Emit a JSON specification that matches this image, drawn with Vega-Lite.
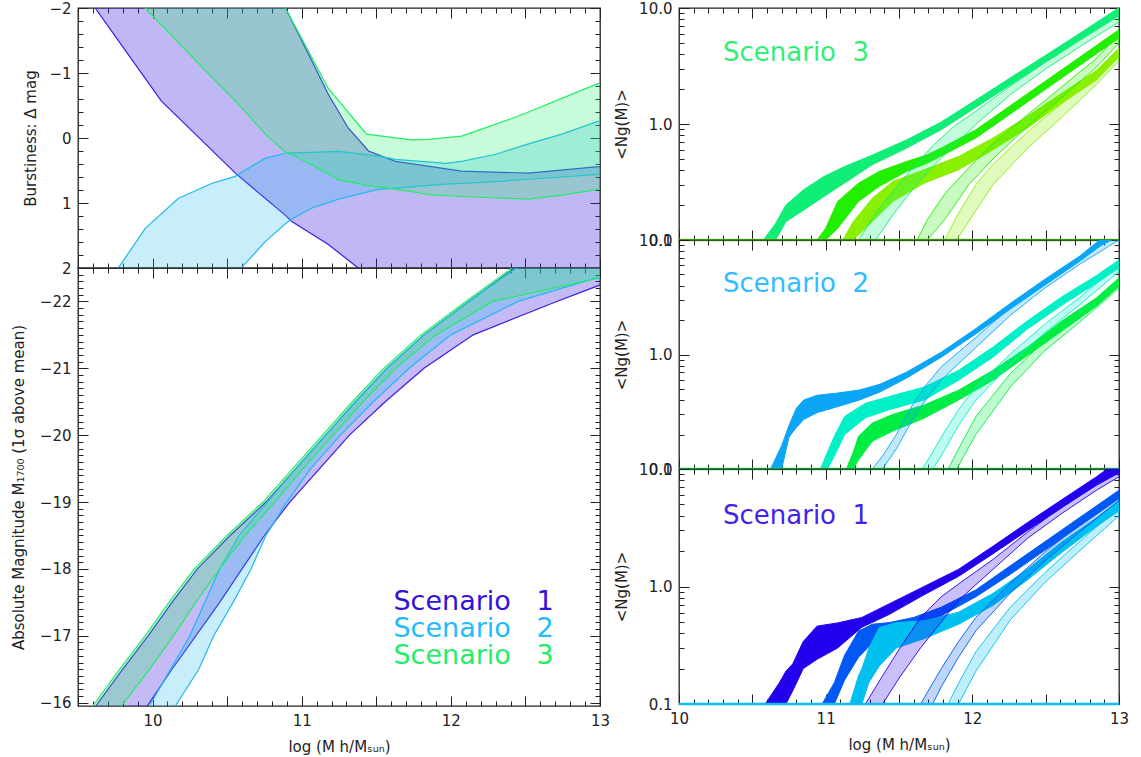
{
"$schema": "https://vega.github.io/schema/vega-lite/v6.json",
"background": "white",
"padding": {"left": 10, "top": 0, "right": 8, "bottom": 4},
"config": {
  "font": "DejaVu Sans",
  "view": {"stroke": "#222", "strokeWidth": 1.3},
  "axis": {"domain": false, "grid": false, "ticks": true, "tickColor": "#222", "tickWidth": 1, "labelFont": "DejaVu Sans", "labelFontSize": 15, "labelColor": "#222", "labelPadding": 17, "labelOverlap": false, "labelFlush": false, "titleFont": "DejaVu Sans", "titleFontSize": 15, "titleFontWeight": "normal", "titleColor": "#222", "titlePadding": 11, "minExtent": 0}
},
"datasets": {
  "tl1": [{"x":9.5,"lo":-4,"hi":-2.4},{"x":9.615,"lo":-4,"hi":-2.0},{"x":9.823,"lo":-4,"hi":-1.33},{"x":10.058,"lo":-4,"hi":-0.57},{"x":10.287,"lo":-4,"hi":-0.06},{"x":10.555,"lo":-4,"hi":0.54},{"x":10.75,"lo":-2.7,"hi":0.92},{"x":10.891,"lo":-2.0,"hi":1.19},{"x":10.931,"lo":-1.82,"hi":1.28},{"x":11.179,"lo":-0.67,"hi":1.64},{"x":11.313,"lo":-0.15,"hi":1.88},{"x":11.38,"lo":0.02,"hi":2.0},{"x":11.448,"lo":0.2,"hi":2.12},{"x":11.629,"lo":0.36,"hi":2.4},{"x":12.072,"lo":0.51,"hi":2.8},{"x":12.521,"lo":0.54,"hi":3.0},{"x":12.991,"lo":0.44,"hi":3.0},{"x":13.05,"lo":0.42,"hi":3.0}],
  "tl2": [{"x":9.73,"lo":2.3,"hi":3.5},{"x":9.77,"lo":2.0,"hi":3.5},{"x":9.951,"lo":1.39,"hi":3.3},{"x":10.172,"lo":0.93,"hi":3.0},{"x":10.394,"lo":0.7,"hi":2.6},{"x":10.555,"lo":0.59,"hi":2.2},{"x":10.595,"lo":0.53,"hi":2.0},{"x":10.757,"lo":0.31,"hi":1.59},{"x":10.891,"lo":0.235,"hi":1.32},{"x":10.931,"lo":0.23,"hi":1.25},{"x":11.065,"lo":0.22,"hi":1.08},{"x":11.247,"lo":0.205,"hi":0.94},{"x":11.515,"lo":0.28,"hi":0.79},{"x":11.629,"lo":0.33,"hi":0.77},{"x":11.965,"lo":0.39,"hi":0.71},{"x":12.072,"lo":0.36,"hi":0.7},{"x":12.301,"lo":0.25,"hi":0.67},{"x":12.521,"lo":0.09,"hi":0.635},{"x":12.744,"lo":-0.06,"hi":0.6},{"x":12.991,"lo":-0.26,"hi":0.56},{"x":13.05,"lo":-0.3,"hi":0.55}],
  "tl3": [{"x":9.85,"lo":-4,"hi":-2.3},{"x":9.951,"lo":-4,"hi":-2.0},{"x":10.307,"lo":-4,"hi":-1.15},{"x":10.555,"lo":-4,"hi":-0.57},{"x":10.757,"lo":-2.6,"hi":-0.06},{"x":10.891,"lo":-2.0,"hi":0.22},{"x":10.958,"lo":-1.71,"hi":0.28},{"x":11.179,"lo":-0.76,"hi":0.55},{"x":11.246,"lo":-0.58,"hi":0.64},{"x":11.401,"lo":-0.15,"hi":0.71},{"x":11.434,"lo":-0.06,"hi":0.73},{"x":11.736,"lo":0.03,"hi":0.82},{"x":11.851,"lo":0.02,"hi":0.87},{"x":12.072,"lo":-0.03,"hi":0.9},{"x":12.407,"lo":-0.3,"hi":0.93},{"x":12.521,"lo":-0.4,"hi":0.94},{"x":12.743,"lo":-0.61,"hi":0.88},{"x":12.991,"lo":-0.84,"hi":0.79},{"x":13.05,"lo":-0.87,"hi":0.78}],
  "bl1": [{"m":-15.8,"xl":9.57,"xr":9.92},{"m":-16.5,"xl":9.8,"xr":10.13},{"m":-17,"xl":9.97,"xr":10.29},{"m":-17.5,"xl":10.13,"xr":10.45},{"m":-18,"xl":10.3,"xr":10.6},{"m":-18.5,"xl":10.52,"xr":10.75},{"m":-19,"xl":10.76,"xr":10.92},{"m":-19.5,"xl":10.96,"xr":11.12},{"m":-20,"xl":11.16,"xr":11.32},{"m":-20.5,"xl":11.36,"xr":11.56},{"m":-21,"xl":11.57,"xr":11.82},{"m":-21.5,"xl":11.82,"xr":12.15},{"m":-22,"xl":12.12,"xr":12.71},{"m":-22.5,"xl":12.43,"xr":13.3},{"m":-22.7,"xl":12.56,"xr":13.5}],
  "bl2": [{"m":-15.8,"xl":9.94,"xr":10.11},{"m":-16.5,"xl":10.12,"xr":10.31},{"m":-17,"xl":10.25,"xr":10.41},{"m":-17.5,"xl":10.35,"xr":10.54},{"m":-18,"xl":10.45,"xr":10.66},{"m":-18.5,"xl":10.58,"xr":10.76},{"m":-19,"xl":10.77,"xr":10.9},{"m":-19.5,"xl":10.96,"xr":11.06},{"m":-20,"xl":11.16,"xr":11.26},{"m":-20.5,"xl":11.36,"xr":11.48},{"m":-21,"xl":11.57,"xr":11.72},{"m":-21.5,"xl":11.82,"xr":12.0},{"m":-22,"xl":12.12,"xr":12.45},{"m":-22.5,"xl":12.44,"xr":13.2},{"m":-22.7,"xl":12.56,"xr":13.5}],
  "bl3": [{"m":-15.8,"xl":9.55,"xr":9.74},{"m":-16.5,"xl":9.78,"xr":9.98},{"m":-17,"xl":9.95,"xr":10.14},{"m":-17.5,"xl":10.11,"xr":10.29},{"m":-18,"xl":10.28,"xr":10.45},{"m":-18.5,"xl":10.5,"xr":10.62},{"m":-19,"xl":10.74,"xr":10.82},{"m":-19.5,"xl":10.94,"xr":11.01},{"m":-20,"xl":11.14,"xr":11.21},{"m":-20.5,"xl":11.34,"xr":11.41},{"m":-21,"xl":11.55,"xr":11.63},{"m":-21.5,"xl":11.8,"xr":11.9},{"m":-22,"xl":12.1,"xr":12.28},{"m":-22.5,"xl":12.41,"xr":13.3},{"m":-22.7,"xl":12.54,"xr":13.6}],
  "r3A": [{"x":10.576,"lo":0.1,"hi":0.1},{"x":10.659,"lo":0.1,"hi":0.139},{"x":10.729,"lo":0.144,"hi":0.2},{"x":10.847,"lo":0.18,"hi":0.27},{"x":10.988,"lo":0.237,"hi":0.353},{"x":11.129,"lo":0.31,"hi":0.43},{"x":11.318,"lo":0.445,"hi":0.54},{"x":11.553,"lo":0.62,"hi":0.73},{"x":11.788,"lo":0.893,"hi":1.04},{"x":12.024,"lo":1.39,"hi":1.61},{"x":12.259,"lo":2.17,"hi":2.5},{"x":12.494,"lo":3.39,"hi":3.87},{"x":12.729,"lo":5.29,"hi":6.0},{"x":13.0,"lo":8.63,"hi":10.06}],
  "r3B": [{"x":10.941,"lo":0.1,"hi":0.1},{"x":11.0,"lo":0.1,"hi":0.126},{"x":11.082,"lo":0.126,"hi":0.215},{"x":11.224,"lo":0.215,"hi":0.309},{"x":11.365,"lo":0.29,"hi":0.39},{"x":11.553,"lo":0.39,"hi":0.476},{"x":11.694,"lo":0.46,"hi":0.543},{"x":11.788,"lo":0.53,"hi":0.62},{"x":12.024,"lo":0.757,"hi":0.89},{"x":12.259,"lo":1.22,"hi":1.44},{"x":12.494,"lo":1.97,"hi":2.32},{"x":12.729,"lo":3.18,"hi":3.74},{"x":13.0,"lo":5.5,"hi":6.5}],
  "r3C": [{"x":11.118,"lo":0.1,"hi":0.1},{"x":11.188,"lo":0.1,"hi":0.144},{"x":11.318,"lo":0.144,"hi":0.229},{"x":11.459,"lo":0.215,"hi":0.32},{"x":11.671,"lo":0.309,"hi":0.403},{"x":11.906,"lo":0.403,"hi":0.525},{"x":12.141,"lo":0.6,"hi":0.757},{"x":12.376,"lo":0.923,"hi":1.165},{"x":12.612,"lo":1.52,"hi":1.85},{"x":12.847,"lo":2.4,"hi":2.9},{"x":13.0,"lo":3.8,"hi":4.5}],
  "t3A": [{"x":11.224,"lo":0.1,"hi":0.1},{"x":11.341,"lo":0.1,"hi":0.17},{"x":11.459,"lo":0.165,"hi":0.26},{"x":11.6,"lo":0.28,"hi":0.43},{"x":11.741,"lo":0.445,"hi":0.67},{"x":11.882,"lo":0.663,"hi":0.97},{"x":12.024,"lo":0.99,"hi":1.29},{"x":12.259,"lo":1.79,"hi":2.12},{"x":12.494,"lo":2.95,"hi":3.37},{"x":12.729,"lo":4.6,"hi":5.2},{"x":13.0,"lo":7.6,"hi":8.6}],
  "t3B": [{"x":11.624,"lo":0.1,"hi":0.1},{"x":11.694,"lo":0.1,"hi":0.15},{"x":11.812,"lo":0.15,"hi":0.25},{"x":11.976,"lo":0.3,"hi":0.42},{"x":12.141,"lo":0.5,"hi":0.68},{"x":12.376,"lo":0.95,"hi":1.2},{"x":12.612,"lo":1.7,"hi":2.1},{"x":12.847,"lo":3.1,"hi":3.7},{"x":13.0,"lo":5.0,"hi":5.9}],
  "t3C": [{"x":11.812,"lo":0.1,"hi":0.1},{"x":11.894,"lo":0.1,"hi":0.16},{"x":12.024,"lo":0.18,"hi":0.3},{"x":12.141,"lo":0.3,"hi":0.45},{"x":12.376,"lo":0.62,"hi":0.85},{"x":12.612,"lo":1.15,"hi":1.5},{"x":12.847,"lo":2.2,"hi":2.7},{"x":13.0,"lo":3.5,"hi":4.1}],
  "r2A": [{"x":10.624,"lo":0.1,"hi":0.1},{"x":10.7,"lo":0.1,"hi":0.16},{"x":10.75,"lo":0.19,"hi":0.24},{"x":10.8,"lo":0.23,"hi":0.34},{"x":10.85,"lo":0.27,"hi":0.4},{"x":10.94,"lo":0.31,"hi":0.44},{"x":11.08,"lo":0.35,"hi":0.46},{"x":11.23,"lo":0.4,"hi":0.49},{"x":11.37,"lo":0.47,"hi":0.55},{"x":11.55,"lo":0.62,"hi":0.7},{"x":11.79,"lo":0.95,"hi":1.05},{"x":12.02,"lo":1.5,"hi":1.67},{"x":12.26,"lo":2.5,"hi":2.8},{"x":12.49,"lo":4.0,"hi":4.5},{"x":12.73,"lo":6.5,"hi":7.2},{"x":12.88,"lo":9.0,"hi":10.3},{"x":13.0,"lo":10.8,"hi":12}],
  "r2B": [{"x":10.965,"lo":0.1,"hi":0.1},{"x":11.012,"lo":0.1,"hi":0.14},{"x":11.059,"lo":0.13,"hi":0.193},{"x":11.129,"lo":0.2,"hi":0.287},{"x":11.271,"lo":0.28,"hi":0.375},{"x":11.435,"lo":0.33,"hi":0.43},{"x":11.671,"lo":0.4,"hi":0.52},{"x":11.906,"lo":0.596,"hi":0.727},{"x":12.141,"lo":0.948,"hi":1.16},{"x":12.376,"lo":1.67,"hi":1.97},{"x":12.612,"lo":2.7,"hi":3.2},{"x":12.847,"lo":4.2,"hi":4.9},{"x":13.0,"lo":5.7,"hi":6.7}],
  "r2C": [{"x":11.141,"lo":0.1,"hi":0.1},{"x":11.188,"lo":0.1,"hi":0.14},{"x":11.224,"lo":0.12,"hi":0.193},{"x":11.318,"lo":0.175,"hi":0.252},{"x":11.459,"lo":0.215,"hi":0.3},{"x":11.671,"lo":0.278,"hi":0.362},{"x":11.906,"lo":0.4,"hi":0.488},{"x":12.141,"lo":0.596,"hi":0.727},{"x":12.376,"lo":0.98,"hi":1.16},{"x":12.612,"lo":1.61,"hi":1.97},{"x":12.847,"lo":2.65,"hi":3.13},{"x":13.0,"lo":3.95,"hi":4.66}],
  "t2A": [{"x":11.318,"lo":0.1,"hi":0.1},{"x":11.388,"lo":0.1,"hi":0.13},{"x":11.482,"lo":0.15,"hi":0.2},{"x":11.6,"lo":0.28,"hi":0.38},{"x":11.694,"lo":0.42,"hi":0.56},{"x":11.788,"lo":0.6,"hi":0.78},{"x":12.024,"lo":1.15,"hi":1.41},{"x":12.259,"lo":2.2,"hi":2.57},{"x":12.494,"lo":3.8,"hi":4.36},{"x":12.729,"lo":6.1,"hi":6.9},{"x":12.93,"lo":8.8,"hi":10},{"x":13.0,"lo":10,"hi":11.5}],
  "t2B": [{"x":11.659,"lo":0.1,"hi":0.1},{"x":11.729,"lo":0.1,"hi":0.14},{"x":11.788,"lo":0.13,"hi":0.19},{"x":11.906,"lo":0.24,"hi":0.33},{"x":12.024,"lo":0.4,"hi":0.52},{"x":12.259,"lo":0.82,"hi":1.01},{"x":12.494,"lo":1.55,"hi":1.84},{"x":12.729,"lo":2.7,"hi":3.13},{"x":13.0,"lo":5.3,"hi":6.1}],
  "t2C": [{"x":11.835,"lo":0.1,"hi":0.1},{"x":11.894,"lo":0.1,"hi":0.14},{"x":12.024,"lo":0.2,"hi":0.287},{"x":12.259,"lo":0.52,"hi":0.68},{"x":12.494,"lo":1.08,"hi":1.32},{"x":12.729,"lo":1.9,"hi":2.25},{"x":13.0,"lo":3.8,"hi":4.4}],
  "r1A": [{"x":10.588,"lo":0.1,"hi":0.1},{"x":10.682,"lo":0.1,"hi":0.15},{"x":10.729,"lo":0.1,"hi":0.19},{"x":10.776,"lo":0.13,"hi":0.22},{"x":10.847,"lo":0.2,"hi":0.34},{"x":10.941,"lo":0.24,"hi":0.46},{"x":11.082,"lo":0.3,"hi":0.49},{"x":11.247,"lo":0.45,"hi":0.545},{"x":11.435,"lo":0.58,"hi":0.714},{"x":11.671,"lo":0.85,"hi":1.0},{"x":11.906,"lo":1.22,"hi":1.4},{"x":12.141,"lo":1.9,"hi":2.2},{"x":12.376,"lo":3.0,"hi":3.5},{"x":12.612,"lo":4.7,"hi":5.5},{"x":12.847,"lo":7.3,"hi":8.6},{"x":12.93,"lo":8.3,"hi":10.2},{"x":13.0,"lo":9.3,"hi":11.5}],
  "r1B": [{"x":10.976,"lo":0.1,"hi":0.1},{"x":11.059,"lo":0.1,"hi":0.152},{"x":11.129,"lo":0.16,"hi":0.26},{"x":11.224,"lo":0.25,"hi":0.417},{"x":11.318,"lo":0.33,"hi":0.477},{"x":11.435,"lo":0.4,"hi":0.493},{"x":11.6,"lo":0.47,"hi":0.545},{"x":11.788,"lo":0.565,"hi":0.667},{"x":12.024,"lo":0.817,"hi":0.935},{"x":12.259,"lo":1.27,"hi":1.5},{"x":12.494,"lo":2.03,"hi":2.4},{"x":12.729,"lo":3.25,"hi":3.84},{"x":13.0,"lo":5.6,"hi":6.6}],
  "r1C": [{"x":11.165,"lo":0.1,"hi":0.1},{"x":11.224,"lo":0.1,"hi":0.174},{"x":11.247,"lo":0.1,"hi":0.2},{"x":11.294,"lo":0.152,"hi":0.298},{"x":11.365,"lo":0.21,"hi":0.446},{"x":11.482,"lo":0.3,"hi":0.493},{"x":11.671,"lo":0.36,"hi":0.51},{"x":11.906,"lo":0.477,"hi":0.604},{"x":12.141,"lo":0.69,"hi":0.874},{"x":12.376,"lo":1.14,"hi":1.4},{"x":12.612,"lo":1.96,"hi":2.4},{"x":12.847,"lo":3.25,"hi":3.84},{"x":13.0,"lo":4.4,"hi":5.38}],
  "t1A": [{"x":11.271,"lo":0.1,"hi":0.1},{"x":11.388,"lo":0.1,"hi":0.174},{"x":11.506,"lo":0.17,"hi":0.298},{"x":11.647,"lo":0.3,"hi":0.545},{"x":11.788,"lo":0.5,"hi":0.817},{"x":11.906,"lo":0.764,"hi":1.05},{"x":12.141,"lo":1.4,"hi":1.7},{"x":12.376,"lo":2.57,"hi":2.9},{"x":12.612,"lo":4.2,"hi":4.8},{"x":12.847,"lo":6.6,"hi":7.3},{"x":13.0,"lo":8.6,"hi":9.4}],
  "t1B": [{"x":11.647,"lo":0.1,"hi":0.1},{"x":11.729,"lo":0.1,"hi":0.15},{"x":11.788,"lo":0.14,"hi":0.2},{"x":11.906,"lo":0.25,"hi":0.34},{"x":12.024,"lo":0.42,"hi":0.545},{"x":12.259,"lo":0.88,"hi":1.07},{"x":12.494,"lo":1.65,"hi":1.96},{"x":12.729,"lo":2.9,"hi":3.36},{"x":13.0,"lo":5.4,"hi":6.2}],
  "t1C": [{"x":11.835,"lo":0.1,"hi":0.1},{"x":11.906,"lo":0.1,"hi":0.15},{"x":12.024,"lo":0.19,"hi":0.278},{"x":12.259,"lo":0.52,"hi":0.667},{"x":12.494,"lo":1.08,"hi":1.31},{"x":12.729,"lo":2.0,"hi":2.4},{"x":13.0,"lo":4.0,"hi":4.7}]
},
"hconcat": [
 {"vconcat": [
  {"width": 522, "height": 260,
   "layer": [
    {"data": {"name": "tl1"}, "mark": {"type": "area", "clip": true, "fill": "#3a1fe0", "fillOpacity": 0.32, "stroke": "#3a1fe0", "strokeWidth": 1.2},
     "encoding": {"x": {"field": "x", "type": "quantitative", "scale": {"domain": [9.5, 13]}, "axis": null}, "y": {"field": "lo", "type": "quantitative", "scale": {"domain": [-2, 2], "reverse": true}, "axis": null}, "y2": {"field": "hi"}}},
    {"data": {"name": "tl2"}, "mark": {"type": "area", "clip": true, "fill": "#22b8f0", "fillOpacity": 0.25, "stroke": "#22b8f0", "strokeWidth": 1.2},
     "encoding": {"x": {"field": "x", "type": "quantitative", "scale": {"domain": [9.5, 13]}, "axis": null}, "y": {"field": "lo", "type": "quantitative", "scale": {"domain": [-2, 2], "reverse": true}, "axis": null}, "y2": {"field": "hi"}}},
    {"data": {"name": "tl3"}, "mark": {"type": "area", "clip": true, "fill": "#22ee66", "fillOpacity": 0.25, "stroke": "#22ee66", "strokeWidth": 1.2},
     "encoding": {"x": {"field": "x", "type": "quantitative", "scale": {"domain": [9.5, 13]}, "axis": null}, "y": {"field": "lo", "type": "quantitative", "scale": {"domain": [-2, 2], "reverse": true}, "axis": null}, "y2": {"field": "hi"}}},
    {"data": {"values": [{}]}, "mark": {"type": "point", "opacity": 0},
     "encoding": {
      "x": {"datum": 10, "type": "quantitative", "scale": {"domain": [9.5, 13]}, "axis": {"orient": "bottom", "title": null, "labels": false, "values": [9.5,9.6,9.7,9.8,9.9,10,10.1,10.2,10.3,10.4,10.5,10.6,10.7,10.8,10.9,11,11.1,11.2,11.3,11.4,11.5,11.6,11.7,11.8,11.9,12,12.1,12.2,12.3,12.4,12.5,12.6,12.7,12.8,12.9,13], "tickSize": {"condition": {"test": "abs(datum.value*2-round(datum.value*2))<0.01", "value": -10}, "value": -5}}},
      "y": {"datum": 0, "type": "quantitative", "scale": {"domain": [-2, 2], "reverse": true}, "axis": {"orient": "left", "title": "Burstiness: Δ mag", "titlePadding": 10, "values": [-2,-1.8,-1.6,-1.4,-1.2,-1,-0.8,-0.6,-0.4,-0.2,0,0.2,0.4,0.6,0.8,1,1.2,1.4,1.6,1.8,2], "labelExpr": "abs(datum.value-round(datum.value))<0.01 ? format(datum.value,'d') : ''", "tickSize": {"condition": {"test": "abs(datum.value-round(datum.value))<0.01", "value": -10}, "value": -5}}}}},
    {"data": {"values": [{}]}, "mark": {"type": "point", "opacity": 0},
     "encoding": {
      "x": {"datum": 10, "type": "quantitative", "scale": {"domain": [9.5, 13]}, "axis": {"orient": "top", "title": null, "labels": false, "values": [9.5,9.6,9.7,9.8,9.9,10,10.1,10.2,10.3,10.4,10.5,10.6,10.7,10.8,10.9,11,11.1,11.2,11.3,11.4,11.5,11.6,11.7,11.8,11.9,12,12.1,12.2,12.3,12.4,12.5,12.6,12.7,12.8,12.9,13], "tickSize": {"condition": {"test": "abs(datum.value*2-round(datum.value*2))<0.01", "value": -10}, "value": -5}}},
      "y": {"datum": 0, "type": "quantitative", "scale": {"domain": [-2, 2], "reverse": true}, "axis": {"orient": "right", "title": null, "labels": false, "values": [-2,-1.8,-1.6,-1.4,-1.2,-1,-0.8,-0.6,-0.4,-0.2,0,0.2,0.4,0.6,0.8,1,1.2,1.4,1.6,1.8,2], "tickSize": {"condition": {"test": "abs(datum.value-round(datum.value))<0.01", "value": -10}, "value": -5}}}}}
   ],
   "resolve": {"axis": {"x": "independent", "y": "independent"}}
  },
  {"width": 522, "height": 438,
   "layer": [
    {"data": {"name": "bl1"}, "mark": {"type": "area", "orient": "horizontal", "clip": true, "fill": "#3a1fe0", "fillOpacity": 0.3, "stroke": "#3a1fe0", "strokeWidth": 1.2},
     "encoding": {"y": {"field": "m", "type": "quantitative", "scale": {"domain": [-22.5, -15.95], "reverse": true}, "axis": null}, "x": {"field": "xl", "type": "quantitative", "scale": {"domain": [9.5, 13]}, "axis": null}, "x2": {"field": "xr"}}},
    {"data": {"name": "bl2"}, "mark": {"type": "area", "orient": "horizontal", "clip": true, "fill": "#22b8f0", "fillOpacity": 0.25, "stroke": "#22b8f0", "strokeWidth": 1.2},
     "encoding": {"y": {"field": "m", "type": "quantitative", "scale": {"domain": [-22.5, -15.95], "reverse": true}, "axis": null}, "x": {"field": "xl", "type": "quantitative", "scale": {"domain": [9.5, 13]}, "axis": null}, "x2": {"field": "xr"}}},
    {"data": {"name": "bl3"}, "mark": {"type": "area", "orient": "horizontal", "clip": true, "fill": "#22ee66", "fillOpacity": 0.25, "stroke": "#22ee66", "strokeWidth": 1.2},
     "encoding": {"y": {"field": "m", "type": "quantitative", "scale": {"domain": [-22.5, -15.95], "reverse": true}, "axis": null}, "x": {"field": "xl", "type": "quantitative", "scale": {"domain": [9.5, 13]}, "axis": null}, "x2": {"field": "xr"}}},
    {"data": {"values": [{}]}, "mark": {"type": "text", "text": "Scenario\u00a0\u00a0\u00a01", "align": "left", "baseline": "middle", "fontSize": 27, "color": "#3311dd"},
     "encoding": {"x": {"datum": 11.615, "type": "quantitative", "scale": {"domain": [9.5, 13]}, "axis": null}, "y": {"datum": -17.5, "type": "quantitative", "scale": {"domain": [-22.5, -15.95], "reverse": true}, "axis": null}}},
    {"data": {"values": [{}]}, "mark": {"type": "text", "text": "Scenario\u00a0\u00a0\u00a02", "align": "left", "baseline": "middle", "fontSize": 27, "color": "#22bbff"},
     "encoding": {"x": {"datum": 11.615, "type": "quantitative", "scale": {"domain": [9.5, 13]}, "axis": null}, "y": {"datum": -17.1, "type": "quantitative", "scale": {"domain": [-22.5, -15.95], "reverse": true}, "axis": null}}},
    {"data": {"values": [{}]}, "mark": {"type": "text", "text": "Scenario\u00a0\u00a0\u00a03", "align": "left", "baseline": "middle", "fontSize": 27, "color": "#22ee66"},
     "encoding": {"x": {"datum": 11.615, "type": "quantitative", "scale": {"domain": [9.5, 13]}, "axis": null}, "y": {"datum": -16.7, "type": "quantitative", "scale": {"domain": [-22.5, -15.95], "reverse": true}, "axis": null}}},
    {"data": {"values": [{}]}, "mark": {"type": "point", "opacity": 0},
     "encoding": {
      "x": {"datum": 10, "type": "quantitative", "scale": {"domain": [9.5, 13]}, "axis": {"orient": "bottom", "title": "log (M h/Mₛᵤₙ)", "titlePadding": 6, "values": [9.5,9.6,9.7,9.8,9.9,10,10.1,10.2,10.3,10.4,10.5,10.6,10.7,10.8,10.9,11,11.1,11.2,11.3,11.4,11.5,11.6,11.7,11.8,11.9,12,12.1,12.2,12.3,12.4,12.5,12.6,12.7,12.8,12.9,13], "labelExpr": "abs(datum.value-round(datum.value))<0.01 ? format(datum.value,'d') : ''", "tickSize": {"condition": {"test": "abs(datum.value*2-round(datum.value*2))<0.01", "value": -10}, "value": -5}}},
      "y": {"datum": -18, "type": "quantitative", "scale": {"domain": [-22.5, -15.95], "reverse": true}, "axis": {"orient": "left", "title": "Absolute Magnitude M₁₇₀₀ (1σ above mean)", "titlePadding": 13, "values": [-22.5,-22.4,-22.3,-22.2,-22.1,-22,-21.9,-21.8,-21.7,-21.6,-21.5,-21.4,-21.3,-21.2,-21.1,-21,-20.9,-20.8,-20.7,-20.6,-20.5,-20.4,-20.3,-20.2,-20.1,-20,-19.9,-19.8,-19.7,-19.6,-19.5,-19.4,-19.3,-19.2,-19.1,-19,-18.9,-18.8,-18.7,-18.6,-18.5,-18.4,-18.3,-18.2,-18.1,-18,-17.9,-17.8,-17.7,-17.6,-17.5,-17.4,-17.3,-17.2,-17.1,-17,-16.9,-16.8,-16.7,-16.6,-16.5,-16.4,-16.3,-16.2,-16.1,-16], "labelExpr": "abs(datum.value-round(datum.value))<0.01 ? format(datum.value,'d') : ''", "tickSize": {"condition": {"test": "abs(datum.value-round(datum.value))<0.01", "value": -10}, "value": -5}}}}},
    {"data": {"values": [{}]}, "mark": {"type": "point", "opacity": 0},
     "encoding": {
      "x": {"datum": 10, "type": "quantitative", "scale": {"domain": [9.5, 13]}, "axis": {"orient": "top", "title": null, "labels": false, "values": [9.5,9.6,9.7,9.8,9.9,10,10.1,10.2,10.3,10.4,10.5,10.6,10.7,10.8,10.9,11,11.1,11.2,11.3,11.4,11.5,11.6,11.7,11.8,11.9,12,12.1,12.2,12.3,12.4,12.5,12.6,12.7,12.8,12.9,13], "tickSize": {"condition": {"test": "abs(datum.value*2-round(datum.value*2))<0.01", "value": -10}, "value": -5}}},
      "y": {"datum": -18, "type": "quantitative", "scale": {"domain": [-22.5, -15.95], "reverse": true}, "axis": {"orient": "right", "title": null, "labels": false, "values": [-22.5,-22.4,-22.3,-22.2,-22.1,-22,-21.9,-21.8,-21.7,-21.6,-21.5,-21.4,-21.3,-21.2,-21.1,-21,-20.9,-20.8,-20.7,-20.6,-20.5,-20.4,-20.3,-20.2,-20.1,-20,-19.9,-19.8,-19.7,-19.6,-19.5,-19.4,-19.3,-19.2,-19.1,-19,-18.9,-18.8,-18.7,-18.6,-18.5,-18.4,-18.3,-18.2,-18.1,-18,-17.9,-17.8,-17.7,-17.6,-17.5,-17.4,-17.3,-17.2,-17.1,-17,-16.9,-16.8,-16.7,-16.6,-16.5,-16.4,-16.3,-16.2,-16.1,-16], "tickSize": {"condition": {"test": "abs(datum.value-round(datum.value))<0.01", "value": -10}, "value": -5}}}}}
   ],
   "resolve": {"axis": {"x": "independent", "y": "independent"}}
  }
 ], "spacing": 0, "bounds": "flush"},
 {"vconcat": [
  {"width": 440, "height": 232,
   "layer": [
    {"data": {"name": "r3A"}, "mark": {"type": "area", "clip": true, "fill": "#11ee77", "stroke": "#11ee77", "strokeWidth": 1}, "encoding": {"x": {"field": "x", "type": "quantitative", "scale": {"domain": [10, 13]}, "axis": null}, "y": {"field": "lo", "type": "quantitative", "scale": {"type": "log", "domain": [0.1, 10]}, "axis": null}, "y2": {"field": "hi"}}},
    {"data": {"name": "r3B"}, "mark": {"type": "area", "clip": true, "fill": "#22ee00", "stroke": "#22ee00", "strokeWidth": 1}, "encoding": {"x": {"field": "x", "type": "quantitative", "scale": {"domain": [10, 13]}, "axis": null}, "y": {"field": "lo", "type": "quantitative", "scale": {"type": "log", "domain": [0.1, 10]}, "axis": null}, "y2": {"field": "hi"}}},
    {"data": {"name": "r3C"}, "mark": {"type": "area", "clip": true, "fill": "#88f000", "stroke": "#88f000", "strokeWidth": 1}, "encoding": {"x": {"field": "x", "type": "quantitative", "scale": {"domain": [10, 13]}, "axis": null}, "y": {"field": "lo", "type": "quantitative", "scale": {"type": "log", "domain": [0.1, 10]}, "axis": null}, "y2": {"field": "hi"}}},
    {"data": {"name": "t3A"}, "mark": {"type": "area", "clip": true, "fill": "#11ee77", "fillOpacity": 0.25, "stroke": "#11ee77", "strokeWidth": 0.9}, "encoding": {"x": {"field": "x", "type": "quantitative", "scale": {"domain": [10, 13]}, "axis": null}, "y": {"field": "lo", "type": "quantitative", "scale": {"type": "log", "domain": [0.1, 10]}, "axis": null}, "y2": {"field": "hi"}}},
    {"data": {"name": "t3B"}, "mark": {"type": "area", "clip": true, "fill": "#22ee00", "fillOpacity": 0.25, "stroke": "#22ee00", "strokeWidth": 0.9}, "encoding": {"x": {"field": "x", "type": "quantitative", "scale": {"domain": [10, 13]}, "axis": null}, "y": {"field": "lo", "type": "quantitative", "scale": {"type": "log", "domain": [0.1, 10]}, "axis": null}, "y2": {"field": "hi"}}},
    {"data": {"name": "t3C"}, "mark": {"type": "area", "clip": true, "fill": "#88f000", "fillOpacity": 0.25, "stroke": "#88f000", "strokeWidth": 0.9}, "encoding": {"x": {"field": "x", "type": "quantitative", "scale": {"domain": [10, 13]}, "axis": null}, "y": {"field": "lo", "type": "quantitative", "scale": {"type": "log", "domain": [0.1, 10]}, "axis": null}, "y2": {"field": "hi"}}},
    {"data": {"values": [{}]}, "mark": {"type": "rule", "color": "#66ee22", "strokeWidth": 2.5}, "encoding": {"y": {"datum": 0.1, "type": "quantitative", "scale": {"type": "log", "domain": [0.1, 10]}, "axis": null}}},
    {"data": {"values": [{}]}, "mark": {"type": "text", "text": "Scenario\u00a0\u00a03", "align": "left", "baseline": "middle", "fontSize": 26, "color": "#33ee77"}, "encoding": {"x": {"datum": 10.3, "type": "quantitative", "scale": {"domain": [10, 13]}, "axis": null}, "y": {"datum": 4.1, "type": "quantitative", "scale": {"type": "log", "domain": [0.1, 10]}, "axis": null}}},
    {"data": {"values": [{}]}, "mark": {"type": "point", "opacity": 0},
     "encoding": {
      "x": {"datum": 11, "type": "quantitative", "scale": {"domain": [10, 13]}, "axis": {"orient": "bottom", "title": null, "labels": false, "values": [10,10.1,10.2,10.3,10.4,10.5,10.6,10.7,10.8,10.9,11,11.1,11.2,11.3,11.4,11.5,11.6,11.7,11.8,11.9,12,12.1,12.2,12.3,12.4,12.5,12.6,12.7,12.8,12.9,13], "tickSize": {"condition": {"test": "abs(datum.value*2-round(datum.value*2))<0.01", "value": -10}, "value": -5}}},
      "y": {"datum": 1, "type": "quantitative", "scale": {"type": "log", "domain": [0.1, 10]}, "axis": {"orient": "left", "title": "<Ng(M)>", "titlePadding": 9, "values": [0.1,0.2,0.3,0.4,0.5,0.6,0.7,0.8,0.9,1,2,3,4,5,6,7,8,9,10], "labelExpr": "abs(log(datum.value)/LN10-round(log(datum.value)/LN10))<0.01 ? format(datum.value,'.1f') : ''", "tickSize": {"condition": {"test": "abs(log(datum.value)/LN10-round(log(datum.value)/LN10))<0.01", "value": -10}, "value": -5}}}}},
    {"data": {"values": [{}]}, "mark": {"type": "point", "opacity": 0},
     "encoding": {
      "x": {"datum": 11, "type": "quantitative", "scale": {"domain": [10, 13]}, "axis": {"orient": "top", "title": null, "labels": false, "values": [10,10.1,10.2,10.3,10.4,10.5,10.6,10.7,10.8,10.9,11,11.1,11.2,11.3,11.4,11.5,11.6,11.7,11.8,11.9,12,12.1,12.2,12.3,12.4,12.5,12.6,12.7,12.8,12.9,13], "tickSize": {"condition": {"test": "abs(datum.value*2-round(datum.value*2))<0.01", "value": -10}, "value": -5}}},
      "y": {"datum": 1, "type": "quantitative", "scale": {"type": "log", "domain": [0.1, 10]}, "axis": {"orient": "right", "title": null, "labels": false, "values": [0.1,0.2,0.3,0.4,0.5,0.6,0.7,0.8,0.9,1,2,3,4,5,6,7,8,9,10], "tickSize": {"condition": {"test": "abs(log(datum.value)/LN10-round(log(datum.value)/LN10))<0.01", "value": -10}, "value": -5}}}}}
   ],
   "resolve": {"axis": {"x": "independent", "y": "independent"}}
  },
  {"width": 440, "height": 229,
   "layer": [
    {"data": {"name": "r2A"}, "mark": {"type": "area", "clip": true, "fill": "#0aa6f5", "stroke": "#0aa6f5", "strokeWidth": 1}, "encoding": {"x": {"field": "x", "type": "quantitative", "scale": {"domain": [10, 13]}, "axis": null}, "y": {"field": "lo", "type": "quantitative", "scale": {"type": "log", "domain": [0.1, 10]}, "axis": null}, "y2": {"field": "hi"}}},
    {"data": {"name": "r2B"}, "mark": {"type": "area", "clip": true, "fill": "#00f0c8", "stroke": "#00f0c8", "strokeWidth": 1}, "encoding": {"x": {"field": "x", "type": "quantitative", "scale": {"domain": [10, 13]}, "axis": null}, "y": {"field": "lo", "type": "quantitative", "scale": {"type": "log", "domain": [0.1, 10]}, "axis": null}, "y2": {"field": "hi"}}},
    {"data": {"name": "r2C"}, "mark": {"type": "area", "clip": true, "fill": "#00ee44", "stroke": "#00ee44", "strokeWidth": 1}, "encoding": {"x": {"field": "x", "type": "quantitative", "scale": {"domain": [10, 13]}, "axis": null}, "y": {"field": "lo", "type": "quantitative", "scale": {"type": "log", "domain": [0.1, 10]}, "axis": null}, "y2": {"field": "hi"}}},
    {"data": {"name": "t2A"}, "mark": {"type": "area", "clip": true, "fill": "#0aa6f5", "fillOpacity": 0.25, "stroke": "#0aa6f5", "strokeWidth": 0.9}, "encoding": {"x": {"field": "x", "type": "quantitative", "scale": {"domain": [10, 13]}, "axis": null}, "y": {"field": "lo", "type": "quantitative", "scale": {"type": "log", "domain": [0.1, 10]}, "axis": null}, "y2": {"field": "hi"}}},
    {"data": {"name": "t2B"}, "mark": {"type": "area", "clip": true, "fill": "#00f0c8", "fillOpacity": 0.25, "stroke": "#00f0c8", "strokeWidth": 0.9}, "encoding": {"x": {"field": "x", "type": "quantitative", "scale": {"domain": [10, 13]}, "axis": null}, "y": {"field": "lo", "type": "quantitative", "scale": {"type": "log", "domain": [0.1, 10]}, "axis": null}, "y2": {"field": "hi"}}},
    {"data": {"name": "t2C"}, "mark": {"type": "area", "clip": true, "fill": "#00ee44", "fillOpacity": 0.25, "stroke": "#00ee44", "strokeWidth": 0.9}, "encoding": {"x": {"field": "x", "type": "quantitative", "scale": {"domain": [10, 13]}, "axis": null}, "y": {"field": "lo", "type": "quantitative", "scale": {"type": "log", "domain": [0.1, 10]}, "axis": null}, "y2": {"field": "hi"}}},
    {"data": {"values": [{}]}, "mark": {"type": "rule", "color": "#22ee55", "strokeWidth": 2.5}, "encoding": {"y": {"datum": 0.1, "type": "quantitative", "scale": {"type": "log", "domain": [0.1, 10]}, "axis": null}}},
    {"data": {"values": [{}]}, "mark": {"type": "text", "text": "Scenario\u00a0\u00a02", "align": "left", "baseline": "middle", "fontSize": 26, "color": "#33bbff"}, "encoding": {"x": {"datum": 10.3, "type": "quantitative", "scale": {"domain": [10, 13]}, "axis": null}, "y": {"datum": 4.1, "type": "quantitative", "scale": {"type": "log", "domain": [0.1, 10]}, "axis": null}}},
    {"data": {"values": [{}]}, "mark": {"type": "point", "opacity": 0},
     "encoding": {
      "x": {"datum": 11, "type": "quantitative", "scale": {"domain": [10, 13]}, "axis": {"orient": "bottom", "title": null, "labels": false, "values": [10,10.1,10.2,10.3,10.4,10.5,10.6,10.7,10.8,10.9,11,11.1,11.2,11.3,11.4,11.5,11.6,11.7,11.8,11.9,12,12.1,12.2,12.3,12.4,12.5,12.6,12.7,12.8,12.9,13], "tickSize": {"condition": {"test": "abs(datum.value*2-round(datum.value*2))<0.01", "value": -10}, "value": -5}}},
      "y": {"datum": 1, "type": "quantitative", "scale": {"type": "log", "domain": [0.1, 10]}, "axis": {"orient": "left", "title": "<Ng(M)>", "titlePadding": 9, "values": [0.1,0.2,0.3,0.4,0.5,0.6,0.7,0.8,0.9,1,2,3,4,5,6,7,8,9,10], "labelExpr": "abs(log(datum.value)/LN10-round(log(datum.value)/LN10))<0.01 ? format(datum.value,'.1f') : ''", "tickSize": {"condition": {"test": "abs(log(datum.value)/LN10-round(log(datum.value)/LN10))<0.01", "value": -10}, "value": -5}}}}},
    {"data": {"values": [{}]}, "mark": {"type": "point", "opacity": 0},
     "encoding": {
      "x": {"datum": 11, "type": "quantitative", "scale": {"domain": [10, 13]}, "axis": {"orient": "top", "title": null, "labels": false, "values": [10,10.1,10.2,10.3,10.4,10.5,10.6,10.7,10.8,10.9,11,11.1,11.2,11.3,11.4,11.5,11.6,11.7,11.8,11.9,12,12.1,12.2,12.3,12.4,12.5,12.6,12.7,12.8,12.9,13], "tickSize": {"condition": {"test": "abs(datum.value*2-round(datum.value*2))<0.01", "value": -10}, "value": -5}}},
      "y": {"datum": 1, "type": "quantitative", "scale": {"type": "log", "domain": [0.1, 10]}, "axis": {"orient": "right", "title": null, "labels": false, "values": [0.1,0.2,0.3,0.4,0.5,0.6,0.7,0.8,0.9,1,2,3,4,5,6,7,8,9,10], "tickSize": {"condition": {"test": "abs(log(datum.value)/LN10-round(log(datum.value)/LN10))<0.01", "value": -10}, "value": -5}}}}}
   ],
   "resolve": {"axis": {"x": "independent", "y": "independent"}}
  },
  {"width": 440, "height": 235,
   "layer": [
    {"data": {"name": "r1A"}, "mark": {"type": "area", "clip": true, "fill": "#2200ee", "stroke": "#2200ee", "strokeWidth": 1}, "encoding": {"x": {"field": "x", "type": "quantitative", "scale": {"domain": [10, 13]}, "axis": null}, "y": {"field": "lo", "type": "quantitative", "scale": {"type": "log", "domain": [0.1, 10]}, "axis": null}, "y2": {"field": "hi"}}},
    {"data": {"name": "r1B"}, "mark": {"type": "area", "clip": true, "fill": "#0058f5", "stroke": "#0058f5", "strokeWidth": 1}, "encoding": {"x": {"field": "x", "type": "quantitative", "scale": {"domain": [10, 13]}, "axis": null}, "y": {"field": "lo", "type": "quantitative", "scale": {"type": "log", "domain": [0.1, 10]}, "axis": null}, "y2": {"field": "hi"}}},
    {"data": {"name": "r1C"}, "mark": {"type": "area", "clip": true, "fill": "#00c0f0", "stroke": "#00c0f0", "strokeWidth": 1}, "encoding": {"x": {"field": "x", "type": "quantitative", "scale": {"domain": [10, 13]}, "axis": null}, "y": {"field": "lo", "type": "quantitative", "scale": {"type": "log", "domain": [0.1, 10]}, "axis": null}, "y2": {"field": "hi"}}},
    {"data": {"name": "t1A"}, "mark": {"type": "area", "clip": true, "fill": "#2200ee", "fillOpacity": 0.25, "stroke": "#2200ee", "strokeWidth": 0.9}, "encoding": {"x": {"field": "x", "type": "quantitative", "scale": {"domain": [10, 13]}, "axis": null}, "y": {"field": "lo", "type": "quantitative", "scale": {"type": "log", "domain": [0.1, 10]}, "axis": null}, "y2": {"field": "hi"}}},
    {"data": {"name": "t1B"}, "mark": {"type": "area", "clip": true, "fill": "#0058f5", "fillOpacity": 0.25, "stroke": "#0058f5", "strokeWidth": 0.9}, "encoding": {"x": {"field": "x", "type": "quantitative", "scale": {"domain": [10, 13]}, "axis": null}, "y": {"field": "lo", "type": "quantitative", "scale": {"type": "log", "domain": [0.1, 10]}, "axis": null}, "y2": {"field": "hi"}}},
    {"data": {"name": "t1C"}, "mark": {"type": "area", "clip": true, "fill": "#00c0f0", "fillOpacity": 0.25, "stroke": "#00c0f0", "strokeWidth": 0.9}, "encoding": {"x": {"field": "x", "type": "quantitative", "scale": {"domain": [10, 13]}, "axis": null}, "y": {"field": "lo", "type": "quantitative", "scale": {"type": "log", "domain": [0.1, 10]}, "axis": null}, "y2": {"field": "hi"}}},
    {"data": {"values": [{}]}, "mark": {"type": "rule", "color": "#11bbee", "strokeWidth": 2.5}, "encoding": {"y": {"datum": 0.1, "type": "quantitative", "scale": {"type": "log", "domain": [0.1, 10]}, "axis": null}}},
    {"data": {"values": [{}]}, "mark": {"type": "text", "text": "Scenario\u00a0\u00a01", "align": "left", "baseline": "middle", "fontSize": 26, "color": "#4422ee"}, "encoding": {"x": {"datum": 10.3, "type": "quantitative", "scale": {"domain": [10, 13]}, "axis": null}, "y": {"datum": 4.0, "type": "quantitative", "scale": {"type": "log", "domain": [0.1, 10]}, "axis": null}}},
    {"data": {"values": [{}]}, "mark": {"type": "point", "opacity": 0},
     "encoding": {
      "x": {"datum": 11, "type": "quantitative", "scale": {"domain": [10, 13]}, "axis": {"orient": "bottom", "title": "log (M h/Mₛᵤₙ)", "titlePadding": 6, "values": [10,10.1,10.2,10.3,10.4,10.5,10.6,10.7,10.8,10.9,11,11.1,11.2,11.3,11.4,11.5,11.6,11.7,11.8,11.9,12,12.1,12.2,12.3,12.4,12.5,12.6,12.7,12.8,12.9,13], "labelExpr": "abs(datum.value-round(datum.value))<0.01 ? format(datum.value,'d') : ''", "tickSize": {"condition": {"test": "abs(datum.value*2-round(datum.value*2))<0.01", "value": -10}, "value": -5}}},
      "y": {"datum": 1, "type": "quantitative", "scale": {"type": "log", "domain": [0.1, 10]}, "axis": {"orient": "left", "title": "<Ng(M)>", "titlePadding": 9, "values": [0.1,0.2,0.3,0.4,0.5,0.6,0.7,0.8,0.9,1,2,3,4,5,6,7,8,9,10], "labelExpr": "abs(log(datum.value)/LN10-round(log(datum.value)/LN10))<0.01 ? format(datum.value,'.1f') : ''", "tickSize": {"condition": {"test": "abs(log(datum.value)/LN10-round(log(datum.value)/LN10))<0.01", "value": -10}, "value": -5}}}}},
    {"data": {"values": [{}]}, "mark": {"type": "point", "opacity": 0},
     "encoding": {
      "x": {"datum": 11, "type": "quantitative", "scale": {"domain": [10, 13]}, "axis": {"orient": "top", "title": null, "labels": false, "values": [10,10.1,10.2,10.3,10.4,10.5,10.6,10.7,10.8,10.9,11,11.1,11.2,11.3,11.4,11.5,11.6,11.7,11.8,11.9,12,12.1,12.2,12.3,12.4,12.5,12.6,12.7,12.8,12.9,13], "tickSize": {"condition": {"test": "abs(datum.value*2-round(datum.value*2))<0.01", "value": -10}, "value": -5}}},
      "y": {"datum": 1, "type": "quantitative", "scale": {"type": "log", "domain": [0.1, 10]}, "axis": {"orient": "right", "title": null, "labels": false, "values": [0.1,0.2,0.3,0.4,0.5,0.6,0.7,0.8,0.9,1,2,3,4,5,6,7,8,9,10], "tickSize": {"condition": {"test": "abs(log(datum.value)/LN10-round(log(datum.value)/LN10))<0.01", "value": -10}, "value": -5}}}}}
   ],
   "resolve": {"axis": {"x": "independent", "y": "independent"}}
  }
 ], "spacing": 0, "bounds": "flush"}
],
"spacing": 2
}
